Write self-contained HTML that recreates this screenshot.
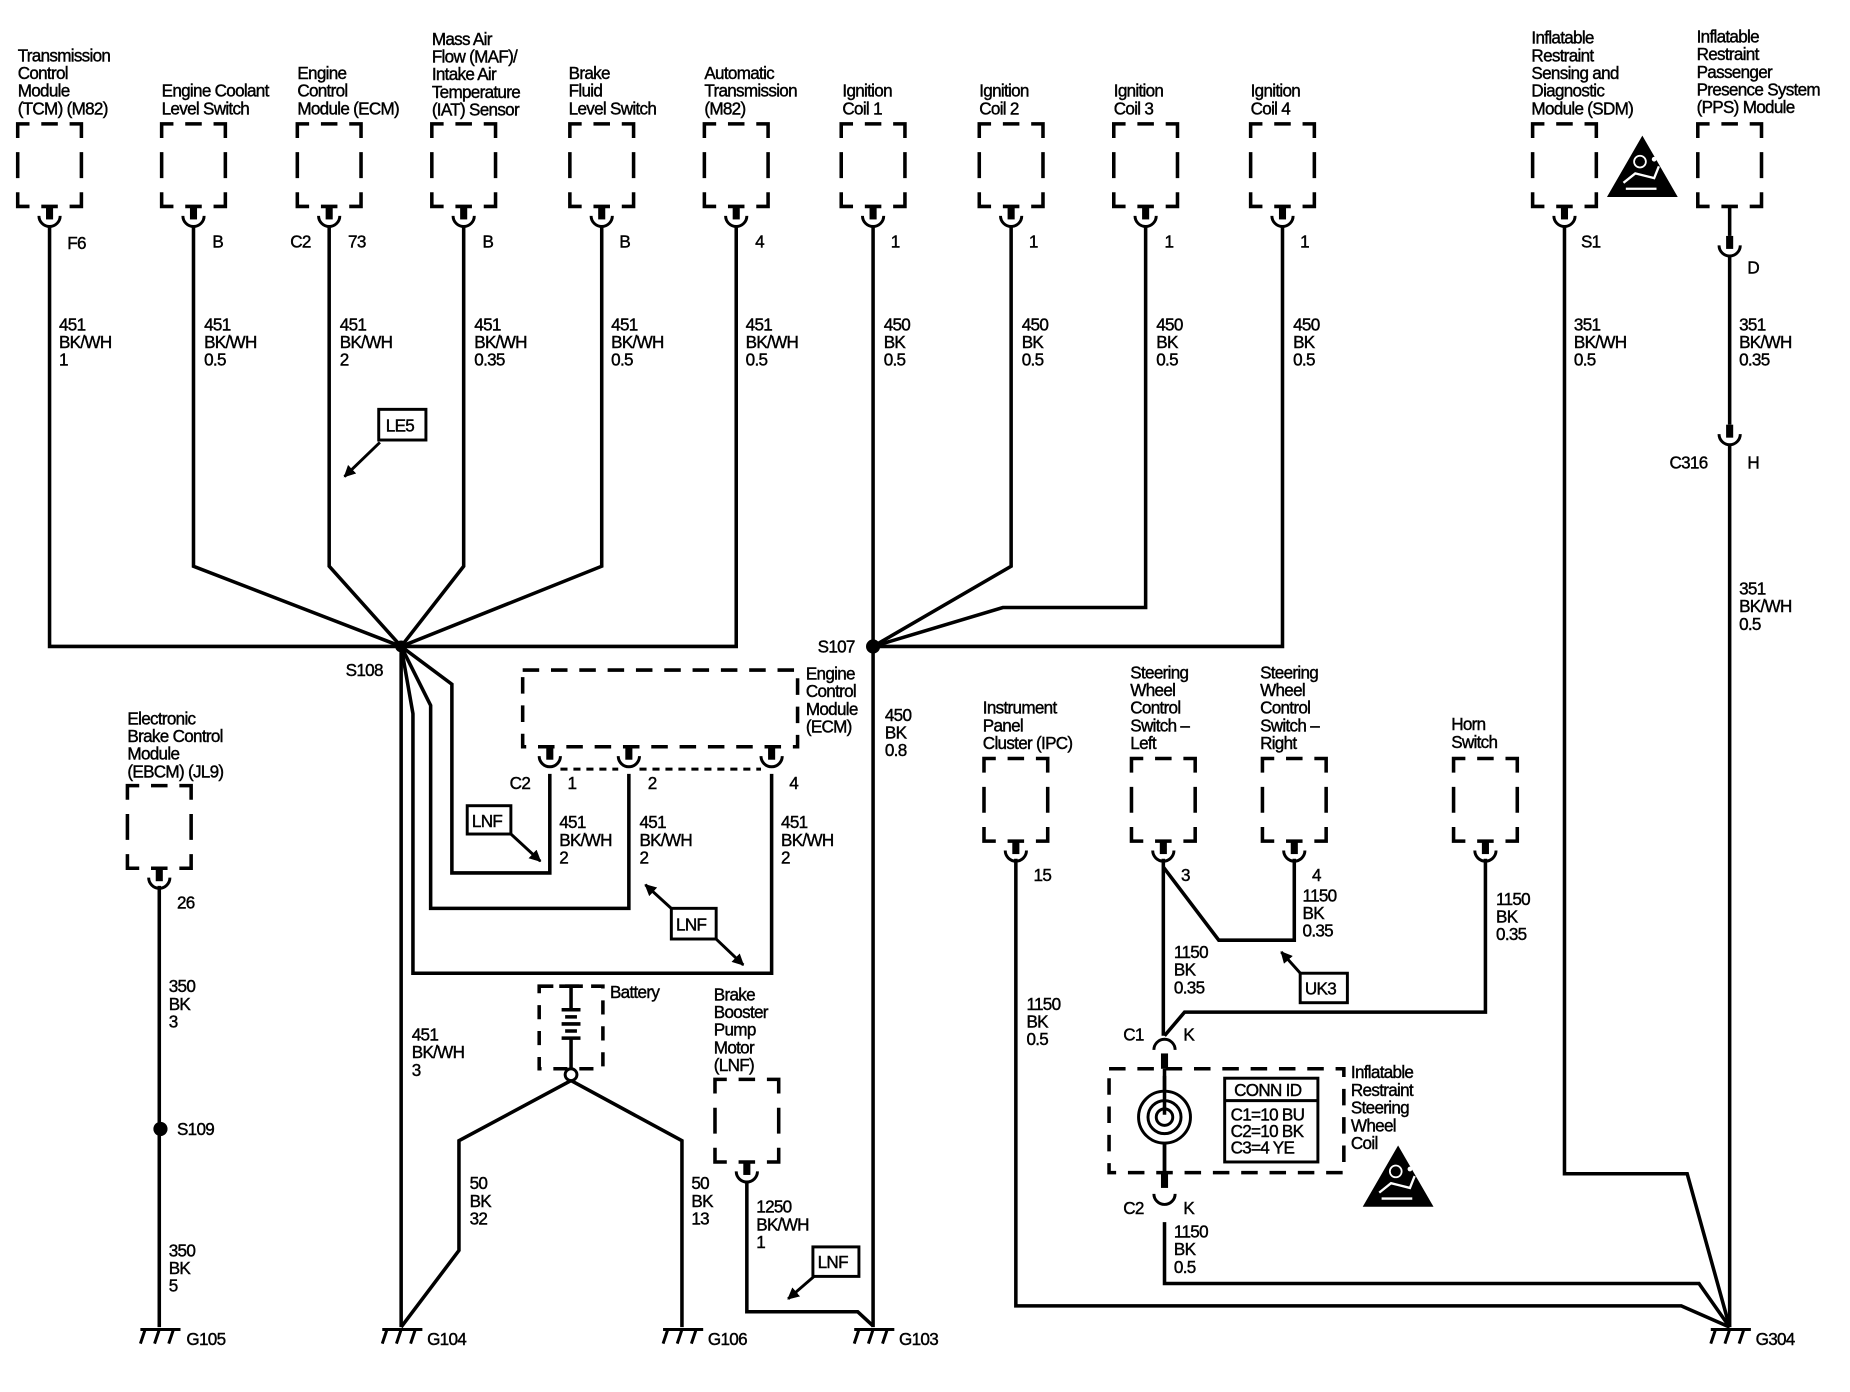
<!DOCTYPE html>
<html><head><meta charset="utf-8"><style>
html,body{margin:0;padding:0;background:#fff;}
svg{display:block}
text{font-family:"Liberation Sans",Arial,sans-serif;font-size:14.5px;letter-spacing:-0.6px;fill:#000;stroke:#000;stroke-width:0.35px}
</style></head><body>
<svg width="1850" height="1392" viewBox="0 0 1568 1180" preserveAspectRatio="none" xmlns="http://www.w3.org/2000/svg">
<defs>
<g id="bx" fill="none" stroke="#000" stroke-width="3">
<path d="M0 12V0H10M20 0H34M44 0H54V12M0 24V46M54 24V46M0 58V70H10M20 70H34M44 70H54V58"/>
</g>
<g id="cn">
<rect x="-3" y="0" width="6" height="11" fill="#000"/>
<path d="M-9 8A9 9 0 0 0 9 8" fill="none" stroke="#000" stroke-width="2.5"/>
</g>
<g id="gnd" stroke="#000" stroke-width="2.5" fill="none">
<path d="M-16 0H18M-12 0L-16 12M0 0L-4 12M12 0L8 12"/>
</g>
<g id="tri">
<path d="M30 0L60 52H0Z" fill="#000"/>
<circle cx="28" cy="22" r="5" fill="none" stroke="#fff" stroke-width="1.5"/>
<path d="M14 40L24 32L40 36L44 26M16 45H42" stroke="#fff" stroke-width="2" fill="none"/>
<circle cx="40" cy="20" r="2" fill="#fff"/>
</g>
<marker id="ah" viewBox="0 0 10 10" refX="9" refY="5" markerWidth="4" markerHeight="4" orient="auto"><path d="M0 0L10 5L0 10Z" fill="#000"/></marker>
</defs>

<text x="15" y="52"><tspan x="15">Transmission</tspan><tspan x="15" dy="15">Control</tspan><tspan x="15" dy="15">Module</tspan><tspan x="15" dy="15">(TCM) (M82)</tspan></text>
<text x="137" y="82"><tspan x="137">Engine Coolant</tspan><tspan x="137" dy="15">Level Switch</tspan></text>
<text x="252" y="67"><tspan x="252">Engine</tspan><tspan x="252" dy="15">Control</tspan><tspan x="252" dy="15">Module (ECM)</tspan></text>
<text x="366" y="38"><tspan x="366">Mass Air</tspan><tspan x="366" dy="15">Flow (MAF)/</tspan><tspan x="366" dy="15">Intake Air</tspan><tspan x="366" dy="15">Temperature</tspan><tspan x="366" dy="15">(IAT) Sensor</tspan></text>
<text x="482" y="67"><tspan x="482">Brake</tspan><tspan x="482" dy="15">Fluid</tspan><tspan x="482" dy="15">Level Switch</tspan></text>
<text x="597" y="67"><tspan x="597">Automatic</tspan><tspan x="597" dy="15">Transmission</tspan><tspan x="597" dy="15">(M82)</tspan></text>
<text x="714" y="82"><tspan x="714">Ignition</tspan><tspan x="714" dy="15">Coil 1</tspan></text>
<text x="830" y="82"><tspan x="830">Ignition</tspan><tspan x="830" dy="15">Coil 2</tspan></text>
<text x="944" y="82"><tspan x="944">Ignition</tspan><tspan x="944" dy="15">Coil 3</tspan></text>
<text x="1060" y="82"><tspan x="1060">Ignition</tspan><tspan x="1060" dy="15">Coil 4</tspan></text>
<text x="1298" y="37"><tspan x="1298">Inflatable</tspan><tspan x="1298" dy="15">Restraint</tspan><tspan x="1298" dy="15">Sensing and</tspan><tspan x="1298" dy="15">Diagnostic</tspan><tspan x="1298" dy="15">Module (SDM)</tspan></text>
<text x="1438" y="36"><tspan x="1438">Inflatable</tspan><tspan x="1438" dy="15">Restraint</tspan><tspan x="1438" dy="15">Passenger</tspan><tspan x="1438" dy="15">Presence System</tspan><tspan x="1438" dy="15">(PPS) Module</tspan></text>

<use href="#bx" x="15" y="105"/><use href="#cn" x="42" y="175"/>
<use href="#bx" x="137" y="105"/><use href="#cn" x="164" y="175"/>
<use href="#bx" x="252" y="105"/><use href="#cn" x="279" y="175"/>
<use href="#bx" x="366" y="105"/><use href="#cn" x="393" y="175"/>
<use href="#bx" x="483" y="105"/><use href="#cn" x="510" y="175"/>
<use href="#bx" x="597" y="105"/><use href="#cn" x="624" y="175"/>
<use href="#bx" x="713" y="105"/><use href="#cn" x="740" y="175"/>
<use href="#bx" x="830" y="105"/><use href="#cn" x="857" y="175"/>
<use href="#bx" x="944" y="105"/><use href="#cn" x="971" y="175"/>
<use href="#bx" x="1060" y="105"/><use href="#cn" x="1087" y="175"/>
<use href="#bx" x="1299" y="105"/><use href="#cn" x="1326" y="175"/>
<use href="#bx" x="1439" y="105"/><use href="#cn" x="1466" y="200"/>
<use href="#cn" x="1466" y="360"/>
<use href="#tri" x="1362" y="115"/>

<g>
<text x="57" y="211">F6</text><text x="180" y="210">B</text><text x="246" y="210">C2</text><text x="295" y="210">73</text>
<text x="409" y="210">B</text><text x="525" y="210">B</text><text x="640" y="210">4</text><text x="755" y="210">1</text>
<text x="872" y="210">1</text><text x="987" y="210">1</text><text x="1102" y="210">1</text><text x="1340" y="210">S1</text>
<text x="1481" y="232">D</text><text x="1415" y="397">C316</text><text x="1481" y="397">H</text>
</g>

<g>
<text x="50" y="280"><tspan x="50">451</tspan><tspan x="50" dy="15">BK/WH</tspan><tspan x="50" dy="15">1</tspan></text>
<text x="173" y="280"><tspan x="173">451</tspan><tspan x="173" dy="15">BK/WH</tspan><tspan x="173" dy="15">0.5</tspan></text>
<text x="288" y="280"><tspan x="288">451</tspan><tspan x="288" dy="15">BK/WH</tspan><tspan x="288" dy="15">2</tspan></text>
<text x="402" y="280"><tspan x="402">451</tspan><tspan x="402" dy="15">BK/WH</tspan><tspan x="402" dy="15">0.35</tspan></text>
<text x="518" y="280"><tspan x="518">451</tspan><tspan x="518" dy="15">BK/WH</tspan><tspan x="518" dy="15">0.5</tspan></text>
<text x="632" y="280"><tspan x="632">451</tspan><tspan x="632" dy="15">BK/WH</tspan><tspan x="632" dy="15">0.5</tspan></text>
<text x="749" y="280"><tspan x="749">450</tspan><tspan x="749" dy="15">BK</tspan><tspan x="749" dy="15">0.5</tspan></text>
<text x="866" y="280"><tspan x="866">450</tspan><tspan x="866" dy="15">BK</tspan><tspan x="866" dy="15">0.5</tspan></text>
<text x="980" y="280"><tspan x="980">450</tspan><tspan x="980" dy="15">BK</tspan><tspan x="980" dy="15">0.5</tspan></text>
<text x="1096" y="280"><tspan x="1096">450</tspan><tspan x="1096" dy="15">BK</tspan><tspan x="1096" dy="15">0.5</tspan></text>
<text x="1334" y="280"><tspan x="1334">351</tspan><tspan x="1334" dy="15">BK/WH</tspan><tspan x="1334" dy="15">0.5</tspan></text>
<text x="1474" y="280"><tspan x="1474">351</tspan><tspan x="1474" dy="15">BK/WH</tspan><tspan x="1474" dy="15">0.35</tspan></text>
<text x="1474" y="504"><tspan x="1474">351</tspan><tspan x="1474" dy="15">BK/WH</tspan><tspan x="1474" dy="15">0.5</tspan></text>
</g>

<g fill="none" stroke="#000" stroke-width="3" stroke-linejoin="miter">
<path d="M42 191V548H624V191"/>
<path d="M164 191V480L340 548"/>
<path d="M279 191V480L340 548"/>
<path d="M393 191V480L340 548"/>
<path d="M510 191V480L340 548"/>
<path d="M740 191V1125"/>
<path d="M857 191V480L740 548"/>
<path d="M971 191V515H850L740 548"/>
<path d="M1087 191V548H740"/>
<path d="M1326 191V995H1430L1466 1125"/>
<path d="M1466 175V200"/>
<path d="M1466 216V360"/>
<path d="M1466 376V1125"/>
<path d="M340 548V1125"/>
<path d="M340 548L383 580V740H466V656"/>
<path d="M340 548L365 598V770H533V656"/>
<path d="M340 548L350 605V825H654V656"/>
<path d="M484 916L389 967V1060L340 1125"/>
<path d="M484 916L578 967V1125"/>
<path d="M633 1001V1112H727L740 1124"/>
<path d="M135 751V1125"/>
<path d="M861 728V1107H1425L1466 1125"/>
<path d="M986 728V878"/>
<path d="M986 735L1033 797H1097V728"/>
<path d="M1259 728V858H1004L987 878"/>
<path d="M987 1036V1088H1440L1466 1125"/>
<path d="M987 912V993"/>
</g>

<circle cx="340" cy="548" r="5"/>
<circle cx="740" cy="548" r="6"/>
<circle cx="136" cy="957" r="6"/>
<text x="293" y="573">S108</text>
<text x="693" y="553">S107</text>
<text x="150" y="962">S109</text>

<rect x="321" y="347" width="40" height="26" fill="none" stroke="#000" stroke-width="2.5"/>
<text x="327" y="366">LE5</text>
<path d="M322 375L292 404" stroke="#000" stroke-width="2.5" marker-end="url(#ah)"/>

<rect x="443" y="568" width="233" height="65" fill="none" stroke="#000" stroke-width="3" stroke-dasharray="14 10"/>
<text x="683" y="576"><tspan x="683">Engine</tspan><tspan x="683" dy="15">Control</tspan><tspan x="683" dy="15">Module</tspan><tspan x="683" dy="15">(ECM)</tspan></text>
<use href="#cn" x="466" y="633"/><use href="#cn" x="533" y="633"/><use href="#cn" x="654" y="633"/>
<path d="M475 652H524M542 652H645" stroke="#000" stroke-width="2.5" stroke-dasharray="6 5"/>
<text x="432" y="669">C2</text><text x="481" y="669">1</text><text x="549" y="669">2</text><text x="669" y="669">4</text>
<text x="474" y="702"><tspan x="474">451</tspan><tspan x="474" dy="15">BK/WH</tspan><tspan x="474" dy="15">2</tspan></text>
<text x="542" y="702"><tspan x="542">451</tspan><tspan x="542" dy="15">BK/WH</tspan><tspan x="542" dy="15">2</tspan></text>
<text x="662" y="702"><tspan x="662">451</tspan><tspan x="662" dy="15">BK/WH</tspan><tspan x="662" dy="15">2</tspan></text>
<rect x="396" y="683" width="37" height="24" fill="none" stroke="#000" stroke-width="2.5"/>
<text x="400" y="701">LNF</text>
<path d="M433 707L458 730" stroke="#000" stroke-width="2.5" marker-end="url(#ah)"/>
<rect x="569" y="770" width="38" height="26" fill="none" stroke="#000" stroke-width="2.5"/>
<text x="573" y="789">LNF</text>
<path d="M570 771L547 750" stroke="#000" stroke-width="2.5" marker-end="url(#ah)"/>
<path d="M607 796L630 818" stroke="#000" stroke-width="2.5" marker-end="url(#ah)"/>

<text x="349" y="882"><tspan x="349">451</tspan><tspan x="349" dy="15">BK/WH</tspan><tspan x="349" dy="15">3</tspan></text>

<rect x="457" y="836" width="54" height="70" fill="none" stroke="#000" stroke-width="3" stroke-dasharray="12 10"/>
<g stroke="#000" stroke-width="3">
<path d="M474 836H494M484 836V856M476 856H492M479 862H489M476 868H492M479 874H489M476 880H492M484 880V906"/>
</g>
<circle cx="484" cy="911" r="5" fill="#fff" stroke="#000" stroke-width="2.5"/>
<text x="517" y="846">Battery</text>
<text x="398" y="1008"><tspan x="398">50</tspan><tspan x="398" dy="15">BK</tspan><tspan x="398" dy="15">32</tspan></text>
<text x="586" y="1008"><tspan x="586">50</tspan><tspan x="586" dy="15">BK</tspan><tspan x="586" dy="15">13</tspan></text>

<text x="605" y="848"><tspan x="605">Brake</tspan><tspan x="605" dy="15">Booster</tspan><tspan x="605" dy="15">Pump</tspan><tspan x="605" dy="15">Motor</tspan><tspan x="605" dy="15">(LNF)</tspan></text>
<use href="#bx" x="606" y="915"/><use href="#cn" x="633" y="985"/>
<text x="641" y="1028"><tspan x="641">1250</tspan><tspan x="641" dy="15">BK/WH</tspan><tspan x="641" dy="15">1</tspan></text>
<rect x="689" y="1057" width="39" height="25" fill="none" stroke="#000" stroke-width="2.5"/>
<text x="693" y="1075">LNF</text>
<path d="M690 1082L668 1101" stroke="#000" stroke-width="2.5" marker-end="url(#ah)"/>
<text x="750" y="611"><tspan x="750">450</tspan><tspan x="750" dy="15">BK</tspan><tspan x="750" dy="15">0.8</tspan></text>

<text x="108" y="614"><tspan x="108">Electronic</tspan><tspan x="108" dy="15">Brake Control</tspan><tspan x="108" dy="15">Module</tspan><tspan x="108" dy="15">(EBCM) (JL9)</tspan></text>
<use href="#bx" x="108" y="666"/><use href="#cn" x="135" y="736"/>
<text x="150" y="770">26</text>
<text x="143" y="841"><tspan x="143">350</tspan><tspan x="143" dy="15">BK</tspan><tspan x="143" dy="15">3</tspan></text>
<text x="143" y="1065"><tspan x="143">350</tspan><tspan x="143" dy="15">BK</tspan><tspan x="143" dy="15">5</tspan></text>

<use href="#gnd" x="135" y="1127"/><text x="158" y="1140">G105</text>
<use href="#gnd" x="340" y="1127"/><text x="362" y="1140">G104</text>
<use href="#gnd" x="578" y="1127"/><text x="600" y="1140">G106</text>
<use href="#gnd" x="740" y="1127"/><text x="762" y="1140">G103</text>
<use href="#gnd" x="1466" y="1127"/><text x="1488" y="1140">G304</text>

<text x="833" y="605"><tspan x="833">Instrument</tspan><tspan x="833" dy="15">Panel</tspan><tspan x="833" dy="15">Cluster (IPC)</tspan></text>
<use href="#bx" x="834" y="643"/><use href="#cn" x="861" y="713"/>
<text x="876" y="747">15</text>
<text x="870" y="856"><tspan x="870">1150</tspan><tspan x="870" dy="15">BK</tspan><tspan x="870" dy="15">0.5</tspan></text>

<text x="958" y="575"><tspan x="958">Steering</tspan><tspan x="958" dy="15">Wheel</tspan><tspan x="958" dy="15">Control</tspan><tspan x="958" dy="15">Switch –</tspan><tspan x="958" dy="15">Left</tspan></text>
<use href="#bx" x="959" y="643"/><use href="#cn" x="986" y="713"/>
<text x="1001" y="747">3</text>
<text x="1068" y="575"><tspan x="1068">Steering</tspan><tspan x="1068" dy="15">Wheel</tspan><tspan x="1068" dy="15">Control</tspan><tspan x="1068" dy="15">Switch –</tspan><tspan x="1068" dy="15">Right</tspan></text>
<use href="#bx" x="1070" y="643"/><use href="#cn" x="1097" y="713"/>
<text x="1112" y="747">4</text>
<text x="1104" y="764"><tspan x="1104">1150</tspan><tspan x="1104" dy="15">BK</tspan><tspan x="1104" dy="15">0.35</tspan></text>
<text x="995" y="812"><tspan x="995">1150</tspan><tspan x="995" dy="15">BK</tspan><tspan x="995" dy="15">0.35</tspan></text>
<rect x="1102" y="825" width="40" height="25" fill="none" stroke="#000" stroke-width="2.5"/>
<text x="1106" y="843">UK3</text>
<path d="M1103 826L1086 807" stroke="#000" stroke-width="2.5" marker-end="url(#ah)"/>
<text x="1230" y="619"><tspan x="1230">Horn</tspan><tspan x="1230" dy="15">Switch</tspan></text>
<use href="#bx" x="1232" y="643"/><use href="#cn" x="1259" y="713"/>
<text x="1268" y="767"><tspan x="1268">1150</tspan><tspan x="1268" dy="15">BK</tspan><tspan x="1268" dy="15">0.35</tspan></text>

<path d="M978 890A9 9 0 0 1 996 890" fill="none" stroke="#000" stroke-width="2.5"/>
<rect x="984" y="893" width="6" height="13" fill="#000"/>
<text x="952" y="882">C1</text><text x="1003" y="882">K</text>
<rect x="940" y="906" width="199" height="88" fill="none" stroke="#000" stroke-width="3" stroke-dasharray="14 10"/>
<rect x="984" y="994" width="6" height="13" fill="#000"/>
<path d="M978 1012A9 9 0 0 0 996 1012" fill="none" stroke="#000" stroke-width="2.5"/>
<text x="952" y="1029">C2</text><text x="1003" y="1029">K</text>
<g fill="none" stroke="#000" stroke-width="2.5">
<circle cx="987" cy="947" r="22" fill="#fff"/>
<circle cx="987" cy="947" r="14"/>
<circle cx="987" cy="947" r="7"/>
</g>
<path d="M987 906V945M987 969V994" stroke="#000" stroke-width="3"/>
<rect x="1038" y="914" width="79" height="71" fill="none" stroke="#000" stroke-width="2.5"/>
<path d="M1038 933H1117" stroke="#000" stroke-width="2.5"/>
<text x="1046" y="929">CONN ID</text>
<text x="1043" y="950"><tspan x="1043">C1=10 BU</tspan><tspan x="1043" dy="14">C2=10 BK</tspan><tspan x="1043" dy="14">C3=4 YE</tspan></text>
<text x="1145" y="914"><tspan x="1145">Inflatable</tspan><tspan x="1145" dy="15">Restraint</tspan><tspan x="1145" dy="15">Steering</tspan><tspan x="1145" dy="15">Wheel</tspan><tspan x="1145" dy="15">Coil</tspan></text>
<use href="#tri" x="1155" y="971"/>
<text x="995" y="1049"><tspan x="995">1150</tspan><tspan x="995" dy="15">BK</tspan><tspan x="995" dy="15">0.5</tspan></text>
</svg>
</body></html>
